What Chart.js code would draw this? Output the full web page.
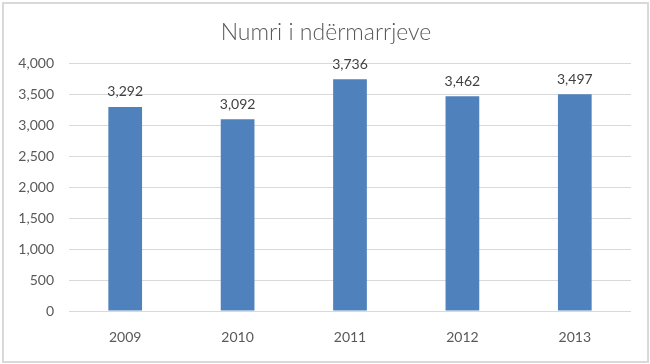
<!DOCTYPE html>
<html>
<head>
<meta charset="utf-8">
<script src="https://cdn.jsdelivr.net/npm/chart.js@4"></script>
<style>
  body { margin: 0; background: #fff; }
  #wrap { position: relative; width: 650px; height: 364px; }
  #frame { position: absolute; left: 2px; top: 2px; width: 643px; height: 357px; border: 2px solid #d9d9d9; pointer-events: none; }
</style>
</head>
<body>
<div id="wrap">
  <canvas id="myChart" width="650" height="364"></canvas>
  <div id="frame"></div>
</div>
<script>
const years = ['2009', '2010', '2011', '2012', '2013'];
const firms = [3292, 3092, 3736, 3462, 3497];
const chartTitle = 'Numri i ndërmarrjeve';

const fmt = v => v.toLocaleString('en-US');

// value labels above each bar + title text
const labelsPlugin = {
  id: 'barLabels',
  afterDatasetsDraw(chart) {
    const ctx = chart.ctx;
    ctx.save();
    ctx.font = '14px Lato, "Liberation Sans", sans-serif';
    ctx.fillStyle = '#404040';
    ctx.textAlign = 'center';
    ctx.textBaseline = 'middle';
    chart.getDatasetMeta(0).data.forEach((bar, i) => {
      ctx.fillText(fmt(firms[i]), bar.x, bar.y - 15);
    });
    ctx.font = '300 23px Lato, "Liberation Sans", sans-serif';
    ctx.fillStyle = '#595959';
    ctx.fillText(chartTitle, 326, 33);
    ctx.restore();
  }
};

const ctx = document.getElementById('myChart');
const myChart = new Chart(ctx, {
  type: 'bar',
  data: {
    labels: years,
    datasets: [{
      data: firms,
      backgroundColor: '#4f81bd',
      barPercentage: 0.6,
      categoryPercentage: 0.5
    }]
  },
  options: {
    responsive: false,
    animation: false,
    layout: { padding: { top: 63, right: 19, bottom: 13, left: 0 } },
    plugins: { legend: { display: false }, tooltip: { enabled: false }, title: { display: false } },
    scales: {
      x: {
        grid: { display: false, drawTicks: false },
        border: { display: false },
        ticks: { color: '#595959', padding: 18, font: { size: 14, family: 'Lato, "Liberation Sans", sans-serif' } },
        afterFit(scale) { scale.height = 40; }
      },
      y: {
        min: 0,
        max: 4000,
        grid: { color: '#d9d9d9', drawTicks: false },
        border: { display: false },
        ticks: {
          stepSize: 500,
          color: '#595959',
          padding: 15,
          font: { size: 14, family: 'Lato, "Liberation Sans", sans-serif' },
          callback: function(value) { return fmt(value); }
        },
        afterFit(scale) { scale.width = 69; }
      }
    }
  },
  plugins: [labelsPlugin]
});
</script>
</body>
</html>
